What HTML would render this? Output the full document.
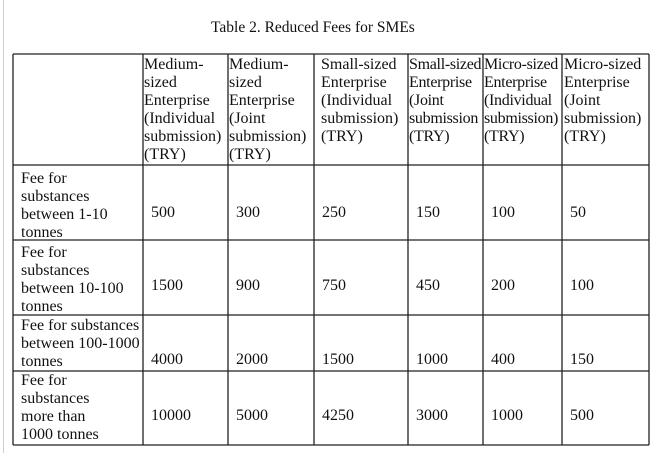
<!DOCTYPE html>
<html><head><style>
body{margin:0;width:666px;height:453px;background:#fff;position:relative;overflow:hidden}
.t{position:absolute;white-space:nowrap;color:#111}
.s{font-family:"Liberation Serif",serif;font-size:16px;line-height:18px}
.a{font-family:"Liberation Serif",serif;font-size:16px;line-height:18px}
</style></head><body>
<svg width="666" height="453" style="position:absolute;left:0;top:0">
<line x1="3.5" y1="0" x2="3.5" y2="453" stroke="#ccc" stroke-width="1"/>
<g stroke="#222" stroke-width="1.3">
<line x1="13" y1="54" x2="649" y2="54"/>
<line x1="13" y1="165" x2="649" y2="165"/>
<line x1="13" y1="240" x2="649" y2="240"/>
<line x1="13" y1="315" x2="649" y2="315"/>
<line x1="13" y1="371" x2="649" y2="371"/>
<line x1="13" y1="445" x2="649" y2="445"/>
<line x1="13" y1="54" x2="13" y2="445"/>
<line x1="143" y1="54" x2="143" y2="445"/>
<line x1="228" y1="54" x2="228" y2="445"/>
<line x1="314" y1="54" x2="314" y2="445"/>
<line x1="408" y1="54" x2="408" y2="445"/>
<line x1="483" y1="54" x2="483" y2="445"/>
<line x1="562" y1="54" x2="562" y2="445"/>
<line x1="649" y1="54" x2="649" y2="445"/>
</g></svg>
<div class="t s" style="left:211px;top:19px;font-size:15.5px">Table 2. Reduced Fees for SMEs</div>
<div class="t s" style="left:144px;top:56px">Medium-<br>sized<br>Enterprise<br>(Individual<br>submission)<br>(TRY)</div>
<div class="t s" style="left:229px;top:56px">Medium-<br>sized<br>Enterprise<br>(Joint<br>submission)<br>(TRY)</div>
<div class="t s" style="left:321px;top:56px">Small-sized<br>Enterprise<br>(Individual<br>submission)<br>(TRY)</div>
<div class="t s" style="left:409px;top:56px;letter-spacing:-0.3px">Small-sized<br>Enterprise<br>(Joint<br>submission<br>(TRY)</div>
<div class="t s" style="left:484px;top:56px;letter-spacing:-0.3px">Micro-sized<br>Enterprise<br>(Individual<br>submission)<br>(TRY)</div>
<div class="t s" style="left:564px;top:56px">Micro-sized<br>Enterprise<br>(Joint<br>submission)<br>(TRY)</div>

<div class="t a" style="left:21px;top:170px">Fee for<br>substances<br>between 1-10<br>tonnes</div>
<div class="t a" style="left:21px;top:244px">Fee for<br>substances<br>between 10-100<br>tonnes</div>
<div class="t a" style="left:21px;top:317px">Fee for substances<br>between 100-1000<br>tonnes</div>
<div class="t a" style="left:21px;top:372px">Fee for<br>substances<br>more than<br>1000 tonnes</div>

<div class="t a" style="left:151px;top:204px">500</div>
<div class="t a" style="left:236px;top:204px">300</div>
<div class="t a" style="left:322px;top:204px">250</div>
<div class="t a" style="left:416px;top:204px">150</div>
<div class="t a" style="left:491px;top:204px">100</div>
<div class="t a" style="left:570px;top:204px">50</div>

<div class="t a" style="left:151px;top:277px">1500</div>
<div class="t a" style="left:236px;top:277px">900</div>
<div class="t a" style="left:322px;top:277px">750</div>
<div class="t a" style="left:416px;top:277px">450</div>
<div class="t a" style="left:491px;top:277px">200</div>
<div class="t a" style="left:570px;top:277px">100</div>

<div class="t a" style="left:151px;top:351px">4000</div>
<div class="t a" style="left:236px;top:351px">2000</div>
<div class="t a" style="left:322px;top:351px">1500</div>
<div class="t a" style="left:416px;top:351px">1000</div>
<div class="t a" style="left:491px;top:351px">400</div>
<div class="t a" style="left:570px;top:351px">150</div>

<div class="t a" style="left:151px;top:407px">10000</div>
<div class="t a" style="left:236px;top:407px">5000</div>
<div class="t a" style="left:322px;top:407px">4250</div>
<div class="t a" style="left:416px;top:407px">3000</div>
<div class="t a" style="left:491px;top:407px">1000</div>
<div class="t a" style="left:570px;top:407px">500</div>
</body></html>
